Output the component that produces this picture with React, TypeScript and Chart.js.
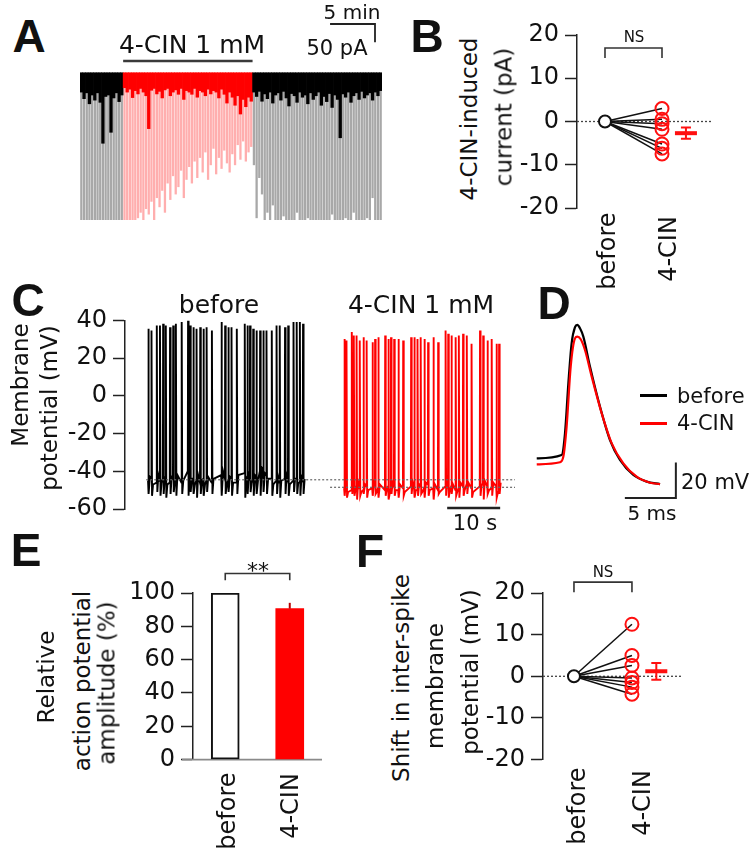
import React, { useEffect, useRef } from "react";
import { Chart, registerables } from "chart.js";

Chart.register(...registerables);

const FONT = "'DejaVu Sans', 'Liberation Sans', Arial, sans-serif";
const BOLD_FONT = "'Liberation Sans', Arial, sans-serif";
const RED = "#ff1010";
const INK = "#111111";

// ---------------- Panel A : current trace (events, pA) ----------------
const A_EVENT_MINUTES = 0.3;
const A_SCALE_MIN = 5;
const A_SCALE_PA = 50;
const A_NOISE_TOP = 3;
const aBeforeAmp = [430, 415, 440, 420, 435, 410, 445, 425, 430, 420, 440, 415, 435, 425, 445, 430];
const aBeforeNoise = [50, 68, 52, 82, 58, 72, 52, 78, 190, 62, 58, 160, 66, 52, 76, 58];
const aDrugAmp = [
  410, 420, 405, 415, 400, 395, 380, 400,
  370, 385, 350, 400, 340, 365, 320, 380,
  300, 345, 280, 330, 310, 265, 340, 290,
  255, 300, 240, 285, 230, 270, 215, 290,
  250, 205, 275, 230, 260, 210, 245, 270,
  220, 250, 195, 235, 185, 240, 215, 200,
];
const aDrugNoise = [
  38, 50, 42, 65, 46, 55, 40, 50,
  60, 150, 45, 40, 55, 48, 66, 44,
  40, 60, 50, 44, 56, 40, 70, 46,
  50, 56, 40, 64, 46, 50, 60, 42,
  55, 46, 50, 66, 42, 56, 80, 50,
  64, 86, 60, 110, 70, 90, 64, 75,
];
const aAfterAmp = [
  250, 395, 285, 330, 410, 380, 420, 360,
  430, 405, 420, 390, 415, 430, 400, 425,
  380, 420, 410, 435, 395, 420, 405, 430,
  415, 400, 425, 410, 430, 385, 420, 405,
  415, 430, 395, 420, 410, 380, 425, 405,
  430, 415, 395, 420, 340, 425, 410, 400,
];
const aAfterNoise = [
  50, 62, 48, 75, 55, 68, 50, 80,
  58, 52, 72, 48, 66, 88, 54, 60,
  78, 50, 64, 58, 82, 52, 70, 60,
  50, 86, 62, 76, 54, 92, 58, 70,
  175, 55, 64, 50, 78, 60, 52, 70,
  48, 66, 58, 52, 72, 50, 60, 46,
];

// ---------------- Panel B : 4-CIN-induced current (pA) ----------------
const bCategories = ["before", "4-CIN"];
const bValues = [3.0, 0.5, -0.5, -1.8, -5.2, -6.2, -7.5];
const bMean = -2.7;
const bSem = 1.3;

// ---------------- Panel C : membrane potential traces ----------------
const cBeforeTimes = [4.4, 5.0, 6.0, 6.6, 7.2, 7.7, 8.5, 9.1, 9.6, 10.7, 11.9, 12.3, 12.9, 13.5, 14.2, 14.8, 15.4, 16.4, 18.2, 18.9, 19.5, 20.1, 21.1, 22.6, 23.1, 23.6, 24.2, 24.8, 25.5, 26.1, 26.7, 27.7, 28.6, 29.2, 30.2, 30.8, 31.8, 32.4, 33.0, 33.6];
const cBeforePeaks = [35.6, 34.7, 37.3, 37.3, 38.2, 37.3, 36.4, 37.3, 38.2, 39.1, 40.0, 37.3, 36.4, 35.6, 36.4, 35.6, 36.4, 34.7, 39.1, 37.3, 36.4, 36.4, 35.6, 38.2, 37.3, 37.3, 35.6, 34.7, 34.7, 34.7, 34.7, 34.7, 37.3, 37.3, 36.4, 37.3, 39.1, 39.1, 39.1, 38.2];
const cBeforeTroughs = [-52, -53, -51, -53, -52, -54, -52, -51, -53, -52, -53, -51, -52, -54, -52, -53, -51, -52, -53, -52, -51, -53, -52, -54, -52, -51, -53, -52, -53, -51, -52, -53, -52, -54, -52, -53, -51, -52, -53, -52];
const cBeforeBase = [-45, -44, -46, -45, -44, -45, -46, -44, -45, -46, -40, -43, -44, -45, -46, -44, -45, -46, -42, -44, -45, -44, -46, -41, -43, -45, -44, -43, -40, -39, -42, -44, -45, -46, -44, -45, -45, -44, -46, -45];
const cBeforeMid = [-43, -47, -42, -46, -44, -47, -43, -46, -42, -45, -38, -44, -47, -42, -45, -47, -43, -44, -40, -47, -43, -46, -42, -44, -40, -46, -42, -45, -38, -41, -44, -47, -43, -45, -42, -47, -44, -46, -43, -44];
const cDrugTimes = [41.4, 41.8, 42.8, 43.2, 43.7, 44.3, 45.0, 45.6, 46.7, 47.2, 47.8, 49.1, 49.7, 50.2, 50.8, 51.6, 52.5, 54.0, 54.6, 55.2, 55.8, 56.5, 57.2, 58.2, 59.1, 60.5, 61.0, 61.6, 62.4, 63.0, 63.8, 64.5, 65.4, 67.0, 67.6, 68.4, 69.2, 70.1, 70.6];
const cDrugPeaks = [30.2, 29.3, 33.8, 32.0, 32.0, 29.3, 31.1, 29.3, 28.4, 30.2, 31.1, 32.0, 30.2, 31.1, 30.2, 30.2, 29.3, 31.1, 31.1, 30.2, 31.1, 30.2, 28.4, 31.1, 28.4, 34.7, 32.9, 32.0, 31.1, 32.0, 32.9, 32.0, 27.6, 34.7, 32.0, 29.3, 30.2, 27.6, 27.6];
const cDrugTroughs = [-53, -54, -52, -53, -55, -53, -52, -54, -53, -52, -54, -53, -55, -52, -53, -54, -53, -52, -54, -53, -52, -54, -53, -55, -52, -53, -54, -52, -53, -54, -53, -52, -54, -53, -55, -52, -53, -54, -52];
const cDrugBase = [-49, -48, -50, -49, -48, -49, -50, -48, -49, -47, -49, -50, -48, -49, -48, -50, -49, -48, -49, -50, -48, -49, -47, -49, -50, -48, -49, -48, -50, -49, -48, -47, -49, -48, -47, -48, -49, -48, -47];
const cDrugMid = [-46, -51, -47, -50, -46, -51, -47, -50, -46, -51, -47, -49, -51, -46, -50, -47, -51, -46, -50, -47, -51, -46, -50, -47, -51, -46, -50, -47, -51, -46, -50, -46, -51, -47, -45, -50, -46, -51, -46];
const cRestBefore = -44.5;
const cRestDrug = -48.5;
const cRestBeforeSpan = [4.0, 73.6];
const cRestDrugSpan = [38.7, 73.6];
const C_SCALE_S = 10;
const C_SCALE_END = 70.8;

// ---------------- Panel D : averaged action potential ----------------
const dBeforeMs = [0.66, 3.1, 3.43, 3.76, 4.08, 4.41, 4.64, 4.9, 5.23, 5.88, 6.86, 7.84, 8.82, 10.13, 11.44, 12.75];
const dBeforeMv = [-42.4, -40.5, -28.2, 0.1, 22.8, 31.9, 33.2, 31.3, 26.6, 9.6, -13.1, -32, -43.3, -51.8, -55.6, -57];
const dDrugMs = [0.66, 2.94, 3.27, 3.59, 3.99, 4.41, 4.64, 4.97, 5.39, 6.05, 7.03, 8.01, 9.15, 10.46, 11.76, 12.75];
const dDrugMv = [-45.8, -44.6, -41.4, -24.4, 9.6, 25.6, 26.6, 25.1, 19, 3.9, -16.9, -33.9, -45.2, -52.8, -56.2, -57];
const D_SCALE_MV = 20;
const D_SCALE_MS = 5;

// ---------------- Panel E : relative AP amplitude ----------------
const eCategories = ["before", "4-CIN"];
const eValues = [100, 90.6];
const eErrors = [0, 3.5];

// ---------------- Panel F : inter-spike potential shift ----------------
const fValues = [12.5, 5.0, 2.6, -0.4, -1.5, -2.6, -4.3];
const fMean = 1.2;
const fSem = 2.0;

// ---------------- helpers ----------------
function yScale(min: number, max: number, step: number, width: number) {
  return {
    type: "linear",
    position: "left",
    min,
    max,
    afterFit: (s: any) => {
      s.width = width;
    },
    ticks: { stepSize: step, color: INK, font: { family: FONT, size: 24 }, padding: 6 },
    grid: { drawOnChartArea: false, drawTicks: true, tickLength: 12, tickWidth: 1.5, tickColor: "#222" },
    border: { display: true, color: "#222", width: 1.5 },
  };
}

const baseOptions = (padding: any) => ({
  animation: false,
  responsive: false,
  events: [],
  layout: { padding },
  plugins: { legend: { display: false }, tooltip: { enabled: false } },
});

const errorBars = {
  id: "errorBars",
  afterDatasetsDraw(chart: any) {
    const { ctx } = chart;
    const y = chart.scales.y;
    chart.data.datasets.forEach((ds: any, i: number) => {
      if (!ds.errors) return;
      const meta = chart.getDatasetMeta(i);
      meta.data.forEach((el: any, j: number) => {
        const e = ds.errors[j];
        if (!e) return;
        const raw = ds.data[j];
        const v = typeof raw === "number" ? raw : raw.y;
        const yTop = y.getPixelForValue(v + e);
        const yBot = y.getPixelForValue(ds.errorUpOnly ? v : v - e);
        ctx.save();
        ctx.strokeStyle = ds.errorColor;
        ctx.lineWidth = ds.errorWidth;
        ctx.beginPath();
        ctx.moveTo(el.x, yTop);
        ctx.lineTo(el.x, yBot);
        if (ds.errorCap) {
          ctx.moveTo(el.x - ds.errorCap, yTop);
          ctx.lineTo(el.x + ds.errorCap, yTop);
          ctx.moveTo(el.x - ds.errorCap, yBot);
          ctx.lineTo(el.x + ds.errorCap, yBot);
        }
        ctx.stroke();
        ctx.restore();
      });
    });
  },
};

function bracket(chart: any, x1: number, x2: number, top: number, bottom: number) {
  const { ctx } = chart;
  const x = chart.scales.x;
  const y = chart.scales.y;
  const px1 = x.getPixelForValue(x1);
  const px2 = x.getPixelForValue(x2);
  const pt = y.getPixelForValue(top);
  const pb = y.getPixelForValue(bottom);
  ctx.save();
  ctx.strokeStyle = "#333";
  ctx.lineWidth = 1.6;
  ctx.beginPath();
  ctx.moveTo(px1, pb);
  ctx.lineTo(px1, pt);
  ctx.lineTo(px2, pt);
  ctx.lineTo(px2, pb);
  ctx.stroke();
  ctx.restore();
}

// ---------------- chart configs ----------------
function makeA() {
  const amps = [...aBeforeAmp, ...aDrugAmp, ...aAfterAmp];
  const noise = [...aBeforeNoise, ...aDrugNoise, ...aAfterNoise];
  const nB = aBeforeAmp.length;
  const nD = aDrugAmp.length;
  const inDrug = (i: number) => i >= nB && i < nB + nD;
  const labels = amps.map((_, i) => String(i));
  const plugin = {
    id: "aAnnot",
    afterDraw(chart: any) {
      const { ctx, chartArea } = chart;
      const x = chart.scales.x;
      const y = chart.scales.y;
      const step = x.getPixelForValue(1) - x.getPixelForValue(0);
      ctx.save();
      ctx.strokeStyle = "#3a3a3a";
      ctx.lineWidth = 2.5;
      ctx.beginPath();
      ctx.moveTo(x.getPixelForValue(nB) - step / 2, 61);
      ctx.lineTo(x.getPixelForValue(nB + nD - 1) + step / 2, 61);
      ctx.stroke();
      const right = chartArea.right - 7;
      const top = 24;
      const w = (A_SCALE_MIN / A_EVENT_MINUTES) * step;
      const h = y.getPixelForValue(-A_SCALE_PA) - y.getPixelForValue(0);
      ctx.strokeStyle = "#222";
      ctx.lineWidth = 1.8;
      ctx.beginPath();
      ctx.moveTo(right - w, top);
      ctx.lineTo(right, top);
      ctx.lineTo(right, top + h);
      ctx.stroke();
      ctx.restore();
    },
  };
  return {
    type: "bar",
    data: {
      labels,
      datasets: [
        {
          label: "noise",
          data: noise.map((n) => [A_NOISE_TOP, -n]),
          backgroundColor: amps.map((_, i) => (inDrug(i) ? "#ff0000" : "#000000")),
          barPercentage: 1,
          categoryPercentage: 1,
          grouped: false,
          order: 0,
        },
        {
          label: "events",
          data: amps.map((a) => -a),
          backgroundColor: amps.map((_, i) => (inDrug(i) ? "#ffaeae" : "#a8a8a8")),
          barPercentage: 0.85,
          categoryPercentage: 1,
          grouped: false,
          order: 1,
        },
      ],
    },
    options: {
      ...baseOptions({ left: 10, right: 18, top: 72, bottom: 10 }),
      scales: {
        x: { display: false },
        y: { display: false, min: -400, max: 5 },
      },
    },
    plugins: [plugin],
  };
}

function makePaired(values: number[], mean: number, sem: number, xMin: number, xMax: number, yWidth: number, padding: any, br: number[]) {
  const MEAN_X = 2.42;
  const plugin = {
    id: "pairedAnnot",
    beforeDatasetsDraw(chart: any) {
      const { ctx, chartArea } = chart;
      const py = chart.scales.y.getPixelForValue(0);
      ctx.save();
      ctx.strokeStyle = "#444";
      ctx.lineWidth = 1.3;
      ctx.setLineDash([2, 2]);
      ctx.beginPath();
      ctx.moveTo(chartArea.left, py);
      ctx.lineTo(chartArea.right, py);
      ctx.stroke();
      ctx.restore();
    },
    afterDraw(chart: any) {
      bracket(chart, 1, 2, br[0], br[1]);
    },
  };
  const lines = values.map((v) => ({
    type: "line",
    data: [
      { x: 1, y: 0 },
      { x: 2, y: v },
    ],
    borderColor: "#111",
    borderWidth: 1.5,
    pointRadius: 0,
    order: 3,
  }));
  return {
    type: "scatter",
    data: {
      labels: bCategories,
      datasets: [
        ...lines,
        {
          data: values.map((v) => ({ x: 2, y: v })),
          pointRadius: 6.5,
          pointBackgroundColor: "rgba(255,255,255,0)",
          pointBorderColor: RED,
          pointBorderWidth: 2,
          order: 2,
        },
        {
          data: [{ x: 1, y: 0 }],
          pointRadius: 6,
          pointBackgroundColor: "#fff",
          pointBorderColor: "#111",
          pointBorderWidth: 2,
          order: 1,
        },
        {
          data: [{ x: MEAN_X, y: mean }],
          pointStyle: "line",
          pointRadius: 11,
          pointBorderColor: RED,
          pointBorderWidth: 4,
          errors: [sem],
          errorCap: 5,
          errorColor: RED,
          errorWidth: 2,
          order: 0,
        },
      ],
    },
    options: {
      ...baseOptions(padding),
      scales: {
        x: { type: "linear", display: false, min: xMin, max: xMax },
        y: yScale(-20, 20, 10, yWidth),
      },
    },
    plugins: [plugin, errorBars],
  };
}

function traceData(times: number[], base: number[], peaks: number[], troughs: number[], mids: number[]) {
  const pts: any[] = [];
  times.forEach((t, i) => {
    pts.push({ x: t - 0.05, y: base[i] }, { x: t, y: peaks[i] }, { x: t + 0.1, y: troughs[i] }, { x: t + 0.3, y: mids[i] });
  });
  return pts;
}

function makeC() {
  const plugin = {
    id: "cAnnot",
    afterDraw(chart: any) {
      const { ctx, chartArea } = chart;
      const x = chart.scales.x;
      ctx.save();
      ctx.strokeStyle = "#222";
      ctx.lineWidth = 2.5;
      ctx.beginPath();
      ctx.moveTo(x.getPixelForValue(C_SCALE_END - C_SCALE_S), chartArea.bottom - 1);
      ctx.lineTo(x.getPixelForValue(C_SCALE_END), chartArea.bottom - 1);
      ctx.stroke();
      ctx.restore();
    },
  };
  return {
    type: "line",
    data: {
      datasets: [
        {
          data: [
            { x: cRestBeforeSpan[0], y: cRestBefore },
            { x: cRestBeforeSpan[1], y: cRestBefore },
          ],
          borderColor: "#666",
          borderWidth: 1.2,
          borderDash: [2, 2],
          pointRadius: 0,
          order: 0,
        },
        {
          data: [
            { x: cRestDrugSpan[0], y: cRestDrug },
            { x: cRestDrugSpan[1], y: cRestDrug },
          ],
          borderColor: "#666",
          borderWidth: 1.2,
          borderDash: [2, 2],
          pointRadius: 0,
          order: 0,
        },
        {
          data: traceData(cBeforeTimes, cBeforeBase, cBeforePeaks, cBeforeTroughs, cBeforeMid),
          borderColor: "#000",
          borderWidth: 1.9,
          pointRadius: 0,
          tension: 0,
          order: 1,
        },
        {
          data: traceData(cDrugTimes, cDrugBase, cDrugPeaks, cDrugTroughs, cDrugMid),
          borderColor: "#ff0000",
          borderWidth: 1.9,
          pointRadius: 0,
          tension: 0,
          order: 1,
        },
      ],
    },
    options: {
      ...baseOptions({ left: 0, right: 15, top: 20, bottom: 31 }),
      scales: {
        x: { type: "linear", display: false, min: 0, max: 73.6 },
        y: yScale(-60, 40, 20, 125),
      },
    },
    plugins: [plugin],
  };
}

function makeD() {
  const plugin = {
    id: "dAnnot",
    afterDraw(chart: any) {
      const { ctx } = chart;
      const x = chart.scales.x;
      const y = chart.scales.y;
      const xEnd = 14.3;
      const yBase = -64.8;
      ctx.save();
      ctx.strokeStyle = "#222";
      ctx.lineWidth = 2;
      ctx.beginPath();
      ctx.moveTo(x.getPixelForValue(xEnd - D_SCALE_MS), y.getPixelForValue(yBase));
      ctx.lineTo(x.getPixelForValue(xEnd), y.getPixelForValue(yBase));
      ctx.lineTo(x.getPixelForValue(xEnd), y.getPixelForValue(yBase + D_SCALE_MV));
      ctx.stroke();
      ctx.restore();
    },
  };
  return {
    type: "line",
    data: {
      datasets: [
        {
          data: dDrugMs.map((t, i) => ({ x: t, y: dDrugMv[i] })),
          borderColor: "#ff0000",
          borderWidth: 2.2,
          pointRadius: 0,
          cubicInterpolationMode: "monotone",
          order: 0,
        },
        {
          data: dBeforeMs.map((t, i) => ({ x: t, y: dBeforeMv[i] })),
          borderColor: "#000",
          borderWidth: 2.2,
          pointRadius: 0,
          cubicInterpolationMode: "monotone",
          order: 1,
        },
      ],
    },
    options: {
      ...baseOptions({ left: 10, right: 22, top: 20, bottom: 30 }),
      scales: {
        x: { type: "linear", display: false, min: 0, max: 20 },
        y: { display: false, min: -66, max: 36 },
      },
    },
    plugins: [plugin],
  };
}

function makeE() {
  const plugin = {
    id: "eAnnot",
    beforeDatasetsDraw(chart: any) {
      const { ctx, chartArea } = chart;
      const py = chart.scales.y.getPixelForValue(0);
      ctx.save();
      ctx.strokeStyle = "#8a8a8a";
      ctx.lineWidth = 1.6;
      ctx.beginPath();
      ctx.moveTo(chartArea.left - 11, py);
      ctx.lineTo(chartArea.right, py);
      ctx.stroke();
      ctx.restore();
    },
    afterDraw(chart: any) {
      bracket(chart, 0, 1, 111.7, 107.6);
    },
  };
  return {
    type: "bar",
    data: {
      labels: eCategories,
      datasets: [
        {
          data: eValues,
          backgroundColor: ["#ffffff", "#ff0000"],
          borderColor: [INK, "#ff0000"],
          borderWidth: [2, 0],
          borderSkipped: false,
          barThickness: 28,
          errors: eErrors,
          errorUpOnly: true,
          errorColor: "#b80000",
          errorWidth: 2,
        },
      ],
    },
    options: {
      ...baseOptions({ left: 0, right: 28, top: 33, bottom: 16 }),
      scales: {
        x: { display: false },
        y: yScale(0, 100, 20, 93),
      },
    },
    plugins: [plugin, errorBars],
  };
}

// ---------------- components ----------------
function ChartBox({ left, top, width, height, make }: any) {
  const ref = useRef<HTMLCanvasElement>(null);
  useEffect(() => {
    const chart = new Chart(ref.current as HTMLCanvasElement, make());
    return () => chart.destroy();
  }, []);
  return (
    <canvas
      ref={ref}
      width={width}
      height={height}
      style={{ position: "absolute", left, top, width, height }}
    />
  );
}

type LabelProps = { t: string; x: number; y: number; s: number; r?: boolean; b?: boolean; left?: boolean };
function Label({ t, x, y, s, r, b, left }: LabelProps) {
  const tx = left ? "0" : "-50%";
  return (
    <div
      style={{
        position: "absolute",
        left: x,
        top: y,
        transform: `translate(${tx},-50%)${r ? " rotate(-90deg)" : ""}`,
        fontFamily: b ? BOLD_FONT : FONT,
        fontWeight: b ? 700 : 400,
        fontSize: s,
        lineHeight: 1,
        whiteSpace: "nowrap",
        color: INK,
      }}
    >
      {t}
    </div>
  );
}

const labels: LabelProps[] = [
  { t: "A", x: 29, y: 36, s: 46, b: true },
  { t: "4-CIN 1 mM", x: 192, y: 44, s: 25 },
  { t: "5 min", x: 352, y: 12, s: 20 },
  { t: "50 pA", x: 337, y: 48, s: 21 },
  { t: "B", x: 427, y: 36, s: 46, b: true },
  { t: "4-CIN-induced", x: 469, y: 119, s: 23, r: true },
  { t: "current (pA)", x: 504, y: 117, s: 23, r: true },
  { t: "NS", x: 634, y: 37, s: 15 },
  { t: bCategories[0], x: 607, y: 251, s: 24, r: true },
  { t: bCategories[1], x: 668, y: 249, s: 24, r: true },
  { t: "C", x: 28, y: 300, s: 46, b: true },
  { t: "before", x: 219, y: 304, s: 25 },
  { t: "4-CIN 1 mM", x: 421, y: 304, s: 25 },
  { t: "Membrane", x: 20, y: 385, s: 23, r: true },
  { t: "potential (mV)", x: 49, y: 408, s: 23, r: true },
  { t: "10 s", x: 475, y: 523, s: 21 },
  { t: "D", x: 554, y: 303, s: 46, b: true },
  { t: "before", x: 677, y: 396, s: 21, left: true },
  { t: "4-CIN", x: 677, y: 423, s: 21, left: true },
  { t: "20 mV", x: 681, y: 482, s: 21, left: true },
  { t: "5 ms", x: 652, y: 513, s: 20 },
  { t: "E", x: 26, y: 550, s: 46, b: true },
  { t: "Relative", x: 46, y: 677, s: 23, r: true },
  { t: "action potential", x: 82, y: 681, s: 23, r: true },
  { t: "amplitude (%)", x: 107, y: 683, s: 23, r: true },
  { t: "**", x: 258, y: 571, s: 22 },
  { t: eCategories[0], x: 227, y: 811, s: 24, r: true },
  { t: eCategories[1], x: 290, y: 806, s: 24, r: true },
  { t: "F", x: 370, y: 551, s: 46, b: true },
  { t: "Shift in inter-spike", x: 401, y: 678, s: 23, r: true },
  { t: "membrane", x: 435, y: 686, s: 23, r: true },
  { t: "potential (mV)", x: 470, y: 672, s: 23, r: true },
  { t: "NS", x: 603, y: 572, s: 15 },
  { t: bCategories[0], x: 577, y: 806, s: 24, r: true },
  { t: bCategories[1], x: 642, y: 803, s: 24, r: true },
];

export default function App() {
  return (
    <div
      style={{
        position: "absolute",
        left: 0,
        top: 0,
        width: 756,
        height: 853,
        background: "#fff",
        overflow: "hidden",
      }}
    >
      <ChartBox left={70} top={0} width={330} height={230} make={makeA} />
      <ChartBox
        left={500}
        top={0}
        width={256}
        height={300}
        make={() => makePaired(bValues, bMean, bSem, 0.509, 2.877, 77, { left: 0, right: 44, top: 35, bottom: 92 }, [17, 14.7])}
      />
      <ChartBox left={0} top={300} width={530} height={240} make={makeC} />
      <ChartBox left={520} top={300} width={236} height={230} make={makeD} />
      <ChartBox left={100} top={560} width={250} height={220} make={makeE} />
      <ChartBox
        left={440}
        top={560}
        width={316}
        height={220}
        make={() => makePaired(fValues, fMean, fSem, 0.466, 2.863, 103, { left: 0, right: 74, top: 33, bottom: 17 }, [22.6, 20.2])}
      />
      <div style={{ position: "absolute", left: 640, top: 394, width: 27, height: 2.5, background: "#000" }} />
      <div style={{ position: "absolute", left: 640, top: 422, width: 27, height: 2.5, background: "#ff0000" }} />
      {labels.map((l, i) => (
        <Label key={i} {...l} />
      ))}
    </div>
  );
}
